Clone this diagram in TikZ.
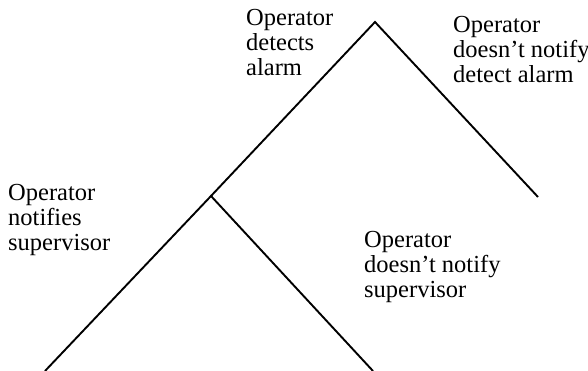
\documentclass[tikz,border=0pt]{standalone}
\usepackage{fontspec}
\setmainfont{Liberation Serif}

\begin{document}
\begin{tikzpicture}[x=1pt, y=-1pt,
		branch/.style={line width=1.9pt},
		evtext/.style={anchor=north west, inner sep=0pt, align=left,
			font=\fontsize{24.5}{25}\selectfont}]
		\useasboundingbox (0,0) rectangle (588,371);
		%tree points
		\coordinate (top) at (375,22);
		\coordinate (nodetect) at (538,197);
		\coordinate (fork) at (211,196);
		\coordinate (notify) at (45,371);
		\coordinate (nonotify) at (373,371);
		%branches
		\draw[branch] (fork) -- (top) -- (nodetect);
		\draw[branch] (notify) -- (fork) -- (nonotify);
		%labels
		\node[evtext] (detects) at (246,9) {Operator\\detects\\alarm};
		\node[evtext] (nodetecttext) at (453,16) {Operator\\doesn’t notify\\detect alarm};
		\node[evtext] (notifies) at (8,184) {Operator\\notifies\\supervisor};
		\node[evtext] (nonotifytext) at (364,231) {Operator\\doesn’t notify\\supervisor};
\end{tikzpicture}
\end{document}
